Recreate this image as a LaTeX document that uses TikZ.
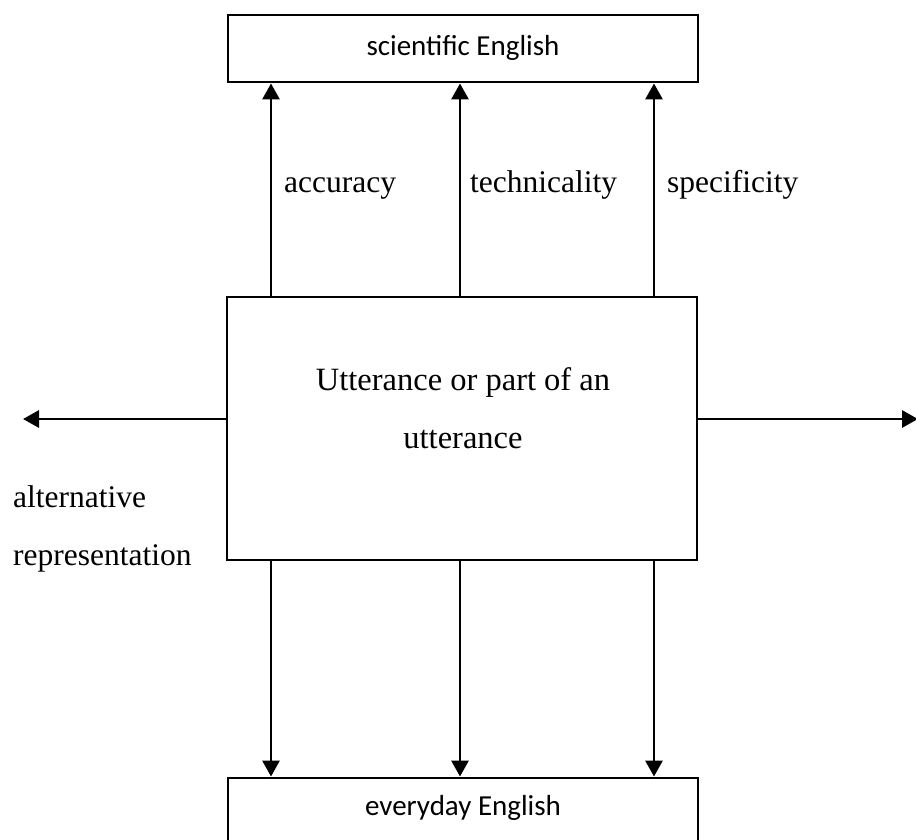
\documentclass[tikz,border=0pt]{standalone}
\usepackage{fontspec}
\setmainfont{Liberation Serif}
\newfontfamily\labelsans{Carlito}
\usetikzlibrary{arrows.meta}

\tikzset{
  frame/.style={draw=black, line width=2.9pt, inner sep=0pt, align=center},
  arr/.style={line width=2.9pt, -{Triangle[length=16pt,width=17pt]}},
  serifbig/.style={font=\fontsize{31.5}{38}\selectfont},
  seriftitle/.style={font=\fontsize{32.5}{58}\selectfont},
  sansbox/.style={font=\labelsans\fontsize{29}{35}\selectfont},
  lbl/.style={serifbig, anchor=base west, inner sep=0pt}
}

\begin{document}
\begin{tikzpicture}[x=1pt, y=-1pt]
  \useasboundingbox (0,0) rectangle (916,839);
  \clip (0,0) rectangle (916,839);

  % register boxes
  \node[frame, sansbox, minimum width=470pt, minimum height=67pt] (sci) at (463,48.5) {};
  \node[sansbox, anchor=base, inner sep=0pt] (scitxt) at (463,55) {scientific English};
  \node[frame, sansbox, minimum width=470pt, minimum height=67pt] (every) at (463,811.5) {};
  \node[sansbox, anchor=base, inner sep=0pt] (everytxt) at (463,815) {everyday English};

  % central box
  \node[frame, minimum width=470pt, minimum height=263pt] (utt) at (462,428.5) {};
  \node[seriftitle, inner sep=0pt, anchor=base] (utt1) at (463,390) {Utterance or part of an};
  \node[seriftitle, inner sep=0pt, anchor=base] (utt2) at (463,448) {utterance};

  % column positions of the vertical arrows
  \coordinate (c1) at (271,0);
  \coordinate (c2) at (460,0);
  \coordinate (c3) at (654,0);

  \foreach \c in {c1,c2,c3} {
    \draw[arr] (\c |- utt.north) -- (\c |- sci.south);
    \draw[arr] (\c |- utt.south) -- (\c |- every.north);
  }

  % horizontal arrows
  \coordinate (lend) at (23,419);
  \coordinate (rend) at (918,419);
  \draw[arr] (utt.west |- lend) -- (lend);
  \draw[arr] (utt.east |- rend) -- (rend);

  % labels
  \node[lbl] (acc) at (284,192) {accuracy};
  \node[lbl] (tech) at (470,192) {technicality};
  \node[lbl] (spec) at (667,192) {specificity};
  \node[lbl] (alt) at (13,507) {alternative};
  \node[lbl] (rep) at (13,565) {representation};
\end{tikzpicture}
\end{document}
